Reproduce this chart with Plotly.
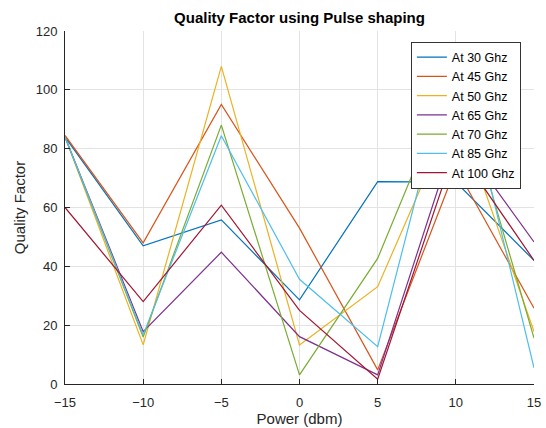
import plotly.graph_objects as go

power = [-15, -10, -5, 0, 5, 10, 15]
series_names = ["At 30 Ghz", "At 45 Ghz", "At 50 Ghz", "At 65 Ghz", "At 70 Ghz", "At 85 Ghz", "At 100 Ghz"]
q_30 = [84, 47, 55.8, 28.6, 68.8, 68.6, 42]
q_45 = [84.5, 48, 95, 53, 4.8, 73.5, 25.8]
q_50 = [84, 13.3, 108, 13.3, 33.1, 94, 17.8]
q_65 = [84, 17.8, 44.8, 16.1, 3.1, 85, 48.3]
q_70 = [84, 16, 88, 3.1, 42.7, 107, 15.6]
q_85 = [84, 16.7, 84.4, 35.6, 12.7, 116, 5.5]
q_100 = [60, 28, 60.8, 25, 1.6, 80.6, 42]
series_values = [q_30, q_45, q_50, q_65, q_70, q_85, q_100]
colors = ["#0072BD", "#D95319", "#EDB120", "#7E2F8E", "#77AC30", "#4DBEEE", "#A2142F"]

fig = go.Figure()
for name, vals, c in zip(series_names, series_values, colors):
    fig.add_trace(go.Scatter(x=power, y=vals, mode="lines", name=name,
                             line=dict(color=c, width=1.2)))

font_fam = "Liberation Sans, Arial, sans-serif"
fig.update_layout(
    width=546, height=428,
    margin=dict(l=65, r=12, t=31, b=44, autoexpand=False),
    paper_bgcolor="white", plot_bgcolor="white",
    font=dict(family=font_fam, size=13, color="#262626"),
    title=dict(text="<b>Quality Factor using Pulse shaping</b>", x=(65 + 469 / 2) / 546, xanchor="center",
               y=1 - 18 / 428, yanchor="middle", font=dict(size=15, color="black")),
    showlegend=True,
    legend=dict(x=0.972, y=0.97, xanchor="right", yanchor="top",
                bgcolor="white", bordercolor="#333333", borderwidth=1,
                font=dict(size=12.5, color="black"), tracegroupgap=0, itemwidth=30),
    xaxis=dict(range=[-15, 15], tickvals=[-15, -10, -5, 0, 5, 10, 15], automargin=False,
               showgrid=True, gridcolor="#e3e3e3", gridwidth=1, zeroline=False,
               showline=True, linecolor="#262626", linewidth=1, ticks="inside", ticklen=5,
               tickcolor="#262626", tickfont=dict(size=13, color="#262626"), ticklabelstandoff=6,
               title=dict(text="Power (dbm)", font=dict(size=15, color="#262626"), standoff=2)),
    yaxis=dict(range=[0, 120], tickvals=[0, 20, 40, 60, 80, 100, 120], automargin=False,
               showgrid=True, gridcolor="#e3e3e3", gridwidth=1, zeroline=False,
               showline=True, linecolor="#262626", linewidth=1, ticks="inside", ticklen=5,
               tickcolor="#262626", tickfont=dict(size=13, color="#262626"), ticklabelstandoff=4,
               title=dict(text="Quality Factor", font=dict(size=15, color="#262626"), standoff=6)),
)
fig.write_html("out.html")
